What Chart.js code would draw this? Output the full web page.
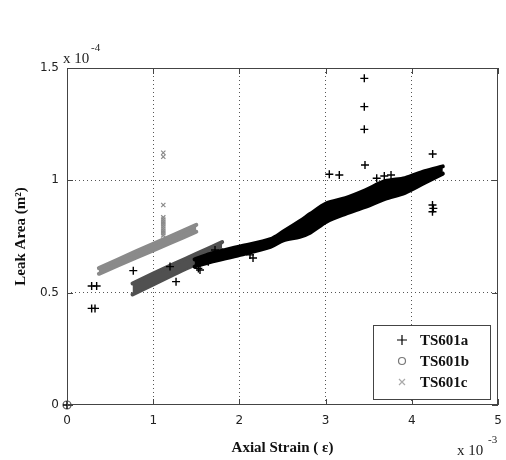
<!DOCTYPE html>
<html>
<head>
<meta charset="utf-8">
<script src="https://cdn.jsdelivr.net/npm/chart.js@4.4.1/dist/chart.umd.min.js"></script>
<style>
  html, body { margin: 0; padding: 0; background: #fff; }
  #wrap { width: 506px; height: 460px; position: relative; }
</style>
</head>
<body>
<div id="wrap"><canvas id="leakChart"></canvas></div>
<script>
// values in units of x 10^-3 (strain) and x 10^-4 (area)
const seriesNames = ['TS601a', 'TS601b', 'TS601c'];

// TS601a: dense band (upper / lower edge) plus scattered points
const aBandX      = [1.48, 1.66, 2.01, 2.36, 2.51, 2.70, 2.82, 3.01, 3.23, 3.46, 3.69, 3.92, 4.15, 4.36];
const aBandTop    = [0.648, 0.672, 0.706, 0.738, 0.772, 0.818, 0.850, 0.898, 0.921, 0.956, 0.996, 1.010, 1.041, 1.062];
const aBandBottom = [0.616, 0.636, 0.668, 0.704, 0.733, 0.749, 0.767, 0.816, 0.851, 0.882, 0.917, 0.944, 0.989, 1.030];
const aPointsX = [0, 0.286, 0.344, 0.286, 0.325, 0.769, 1.195, 1.265, 1.524, 1.543, 1.639, 1.717, 1.775, 2.123, 2.158,
                  3.043, 3.159, 3.449, 3.449, 3.449, 3.457, 3.593, 3.681, 3.759, 4.242, 4.24, 4.25, 4.24];
const aPointsY = [0, 0.530, 0.530, 0.430, 0.430, 0.598, 0.616, 0.549, 0.608, 0.601, 0.638, 0.690, 0.660, 0.668, 0.654,
                  1.027, 1.024, 1.454, 1.328, 1.227, 1.068, 1.009, 1.019, 1.024, 1.117, 0.890, 0.875, 0.860];

// TS601b
const bBandX      = [0.76, 1.00, 1.25, 1.50, 1.80];
const bBandTop    = [0.541, 0.585, 0.629, 0.673, 0.725];
const bBandBottom = [0.492, 0.537, 0.583, 0.629, 0.690];
const bPointsX = [0];
const bPointsY = [0];

// TS601c
const cBandX      = [0.37, 0.80, 1.20, 1.50];
const cBandTop    = [0.609, 0.684, 0.751, 0.802];
const cBandBottom = [0.584, 0.656, 0.721, 0.771];
const cPointsX = [1.117, 1.117, 1.117, 1.117, 1.117, 1.117, 1.117, 1.117, 1.117, 1.117, 1.117, 1.117];
const cPointsY = [0.755, 0.765, 0.775, 0.785, 0.795, 0.805, 0.815, 0.825, 0.835, 0.89, 1.105, 1.123];

const xTickLabels = ['0', '1', '2', '3', '4', '5'];
const yTickLabels = ['0', '0.5', '1', '1.5'];

const aColor = '#000000';
const bColor = '#505050';
const cColor = '#8a8a8a';

function pts(xs, ys) {
  return xs.map((x, i) => ({ x: x, y: ys[i] }));
}

function band(xs, ys, color, fill) {
  return {
    type: 'line',
    label: '',
    data: pts(xs, ys),
    borderColor: color,
    backgroundColor: color,
    borderWidth: 4,
    borderCapStyle: 'round',
    borderJoinStyle: 'round',
    pointRadius: 0,
    tension: 0.3,
    fill: fill
  };
}

// plot frame, inward tick marks, power labels and the boxed legend
const matlabFrame = {
  id: 'matlabFrame',
  afterDatasetsDraw(chart) {
    const ctx = chart.ctx;
    const a = chart.chartArea;
    const xs = chart.scales.x, ys = chart.scales.y;
    ctx.save();
    ctx.strokeStyle = '#444';
    ctx.lineWidth = 1;
    ctx.strokeRect(a.left + 0.5, a.top + 0.5, a.right - a.left - 1, a.bottom - a.top - 1);
    ctx.beginPath();
    xs.ticks.forEach(t => {
      const px = Math.round(xs.getPixelForValue(t.value)) + 0.5;
      ctx.moveTo(px, a.bottom); ctx.lineTo(px, a.bottom - 6);
      ctx.moveTo(px, a.top); ctx.lineTo(px, a.top + 6);
    });
    ys.ticks.forEach(t => {
      const py = Math.round(ys.getPixelForValue(t.value)) + 0.5;
      ctx.moveTo(a.left, py); ctx.lineTo(a.left + 6, py);
      ctx.moveTo(a.right, py); ctx.lineTo(a.right - 6, py);
    });
    ctx.stroke();

    // power-of-ten labels
    ctx.fillStyle = '#222';
    ctx.textBaseline = 'alphabetic';
    ctx.textAlign = 'left';
    ctx.font = '15px "Liberation Serif", serif';
    ctx.fillText('x 10', 63, 63);
    ctx.fillText('x 10', 457, 455);
    ctx.font = '11px "Liberation Serif", serif';
    ctx.fillText('-4', 91, 51);
    ctx.fillText('-3', 488, 443);

    // legend
    const lx = 373, ly = 325, lw = 117, lh = 74;
    ctx.fillStyle = '#fff';
    ctx.fillRect(lx, ly, lw, lh);
    ctx.strokeStyle = '#444';
    ctx.strokeRect(lx + 0.5, ly + 0.5, lw, lh);
    const rows = [340, 361, 382];
    const mx = 402;
    ctx.lineWidth = 1.2;
    // +
    ctx.strokeStyle = aColor;
    ctx.beginPath();
    ctx.moveTo(mx - 5, rows[0]); ctx.lineTo(mx + 5, rows[0]);
    ctx.moveTo(mx, rows[0] - 5); ctx.lineTo(mx, rows[0] + 5);
    ctx.stroke();
    // o
    ctx.strokeStyle = '#777';
    ctx.beginPath();
    ctx.arc(mx, rows[1], 3.5, 0, Math.PI * 2);
    ctx.stroke();
    // x
    ctx.strokeStyle = '#aaa';
    ctx.beginPath();
    ctx.moveTo(mx - 3, rows[2] - 3); ctx.lineTo(mx + 3, rows[2] + 3);
    ctx.moveTo(mx + 3, rows[2] - 3); ctx.lineTo(mx - 3, rows[2] + 3);
    ctx.stroke();
    ctx.fillStyle = '#111';
    ctx.font = 'bold 15px "Liberation Serif", serif';
    ctx.textBaseline = 'middle';
    seriesNames.forEach((n, i) => ctx.fillText(n, 420, rows[i] + 1));
    ctx.restore();
  }
};

const ctx = document.getElementById('leakChart').getContext('2d');
const leakChart = new Chart(ctx, {
  type: 'scatter',
  data: {
    datasets: [
      {
        label: seriesNames[0],
        data: pts(aPointsX, aPointsY),
        pointStyle: 'cross',
        pointRadius: 4,
        borderColor: aColor,
        backgroundColor: aColor,
        pointBorderWidth: 1.4,
        clip: false
      },
      {
        label: seriesNames[1],
        data: pts(bPointsX, bPointsY),
        pointStyle: 'circle',
        pointRadius: 4,
        borderColor: '#555',
        backgroundColor: 'rgba(0,0,0,0)',
        pointBorderWidth: 1.2,
        clip: false
      },
      {
        label: seriesNames[2],
        data: pts(cPointsX, cPointsY),
        pointStyle: 'crossRot',
        pointRadius: 3,
        borderColor: cColor,
        backgroundColor: cColor,
        pointBorderWidth: 1.2,
        clip: false
      },
      band(aBandX, aBandTop, aColor, '+1'),
      band(aBandX, aBandBottom, aColor, false),
      band(bBandX, bBandTop, bColor, '+1'),
      band(bBandX, bBandBottom, bColor, false),
      band(cBandX, cBandTop, cColor, '+1'),
      band(cBandX, cBandBottom, cColor, false)
    ]
  },
  options: {
    responsive: true,
    maintainAspectRatio: false,
    animation: false,
    layout: {
      padding: { top: 68, right: 8, left: 0, bottom: 0 }
    },
    scales: {
      x: {
        type: 'linear',
        min: 0,
        max: 5,
        afterFit: (scale) => {
          scale.height = 55;
          scale.paddingLeft = 0;
          scale.paddingRight = 0;
        },
        border: { display: false, dash: [1, 3] },
        grid: {
          drawTicks: false,
          color: (c) => (c.tick && (c.tick.value === 0 || c.tick.value === 5)) ? 'rgba(0,0,0,0)' : '#555'
        },
        ticks: {
          stepSize: 1,
          padding: 9,
          color: '#222',
          font: { family: '"DejaVu Sans", sans-serif', size: 12 },
          callback: (v, i) => xTickLabels[i]
        },
        title: {
          display: true,
          text: 'Axial Strain ( ε)',
          color: '#111',
          font: { family: '"Liberation Serif", serif', size: 15, weight: 'bold' },
          padding: { top: 0, bottom: 3 }
        }
      },
      y: {
        type: 'linear',
        min: 0,
        max: 1.5,
        afterFit: (scale) => {
          scale.width = 67;
          scale.paddingTop = 0;
          scale.paddingBottom = 0;
        },
        border: { display: false, dash: [1, 3] },
        grid: {
          drawTicks: false,
          color: (c) => (c.tick && (c.tick.value === 0 || c.tick.value === 1.5)) ? 'rgba(0,0,0,0)' : '#555'
        },
        ticks: {
          stepSize: 0.5,
          padding: 8,
          color: '#222',
          font: { family: '"DejaVu Sans", sans-serif', size: 12 },
          callback: (v, i) => yTickLabels[i]
        },
        title: {
          display: true,
          text: 'Leak Area (m²)',
          color: '#111',
          font: { family: '"Liberation Serif", serif', size: 15, weight: 'bold' },
          padding: { top: 12, bottom: 0 }
        }
      }
    },
    plugins: {
      legend: { display: false },
      tooltip: { enabled: false }
    }
  },
  plugins: [matlabFrame]
});
</script>
</body>
</html>
